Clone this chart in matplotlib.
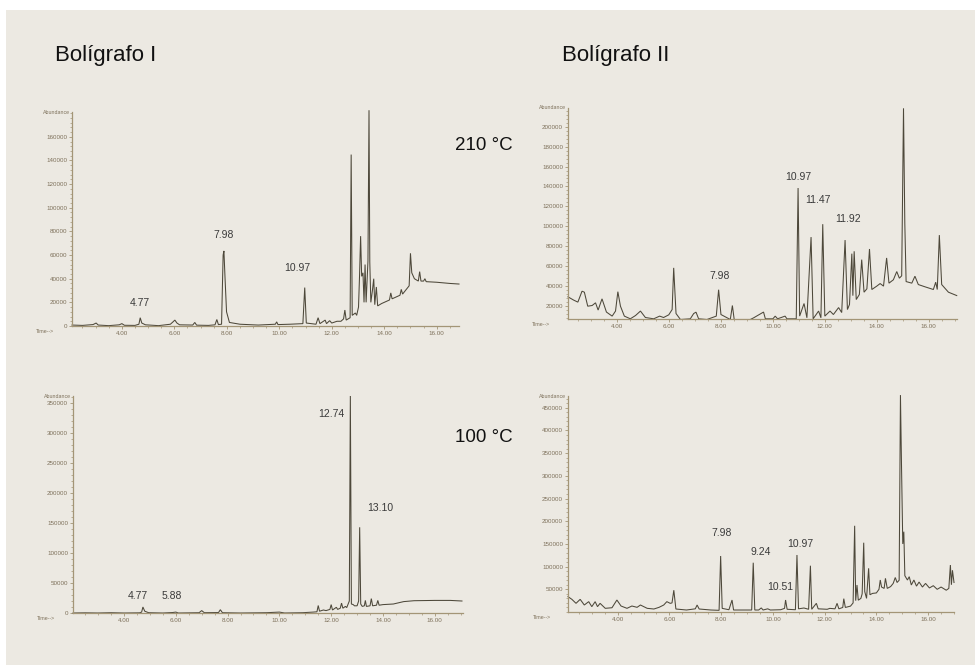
import numpy as np
import matplotlib.pyplot as plt
from matplotlib.patches import Rectangle
from matplotlib.ticker import FixedLocator, AutoMinorLocator

# chromatogram traces: (retention time [min], abundance)
trace_I_210 = [(2.10, 800), (2.5, 500), (2.9, 1200), (3.02, 2500), (3.1, 800), (3.5, 300),
               (3.9, 1000), (4.0, 2000), (4.1, 600), (4.5, 500), (4.65, 1500), (4.70, 7000),
               (4.76, 2500), (4.9, 1000), (5.4, 300), (5.85, 1500), (5.95, 3500), (6.02, 5000),
               (6.1, 2500), (6.2, 1000), (6.7, 800), (6.78, 3000), (6.85, 700), (7.3, 500),
               (7.55, 1000), (7.62, 5500), (7.68, 1200), (7.80, 1500), (7.86, 60000), (7.89, 63500),
               (7.93, 42000), (7.99, 12000), (8.1, 3000), (8.5, 1500), (9.2, 800), (9.85, 1500),
               (9.9, 3500), (9.95, 1200), (10.4, 1500), (10.9, 2000), (10.97, 32500), (11.03, 2500),
               (11.4, 1500), (11.48, 7000), (11.55, 2000), (11.75, 5000), (11.8, 2000), (11.92, 4500),
               (12.0, 2500), (12.2, 4000), (12.35, 4000), (12.45, 6000), (12.5, 13500), (12.55, 5000),
               (12.7, 7000), (12.74, 145000), (12.78, 9000), (12.9, 11000), (12.95, 9000),
               (13.02, 16000), (13.06, 43000), (13.1, 76000), (13.14, 42000), (13.19, 45000),
               (13.23, 20000), (13.27, 52000), (13.31, 20000), (13.38, 55000), (13.42, 182500),
               (13.45, 54000), (13.49, 20000), (13.55, 30000), (13.6, 40000), (13.64, 18000),
               (13.7, 33000), (13.75, 17000), (13.9, 19000), (14.2, 22000), (14.25, 28000),
               (14.3, 23000), (14.6, 26000), (14.65, 31000), (14.7, 27000), (14.95, 34000),
               (15.0, 61500), (15.05, 45000), (15.15, 40000), (15.3, 38000), (15.35, 46000),
               (15.4, 38000), (15.5, 38000), (15.55, 40000), (15.6, 37500), (16.0, 37000),
               (16.5, 36000), (16.85, 35500)]

trace_II_210 = [(2.11, 28800), (2.33, 25500), (2.49, 23500), (2.65, 34500), (2.74, 33500),
                (2.87, 19400), (3.04, 20100), (3.17, 22800), (3.27, 15500), (3.42, 26800),
                (3.59, 13500), (3.81, 9400), (3.94, 14500), (4.03, 34000), (4.13, 19400),
                (4.28, 9400), (4.51, 6700), (4.71, 10000), (4.9, 14500), (5.09, 8000),
                (5.41, 6700), (5.64, 9400), (5.79, 8000), (5.99, 10700), (6.12, 16000),
                (6.18, 58000), (6.27, 12000), (6.44, 6000), (6.82, 6700), (6.95, 12000),
                (7.04, 13400), (7.14, 6700), (7.46, 6000), (7.82, 9400), (7.91, 36000),
                (8.0, 11000), (8.36, 6000), (8.44, 20100), (8.51, 6000), (9.13, 6000),
                (9.26, 7700), (9.64, 13500), (9.71, 6700), (10.0, 6700), (10.09, 9400),
                (10.18, 6700), (10.47, 9400), (10.54, 6700), (10.90, 6700), (10.97, 138400),
                (11.03, 9400), (11.2, 22100), (11.31, 7700), (11.47, 89000), (11.55, 6700),
                (11.76, 14500), (11.85, 7700), (11.92, 102000), (12.0, 9400), (12.2, 14500),
                (12.33, 11000), (12.53, 18000), (12.65, 13000), (12.78, 86000), (12.87, 16000),
                (12.95, 21100), (13.04, 72300), (13.08, 30000), (13.13, 74700), (13.21, 26100),
                (13.33, 31200), (13.42, 66300), (13.51, 33500), (13.62, 36900), (13.72, 77000),
                (13.81, 36200), (14.0, 39600), (14.13, 42200), (14.26, 39600), (14.38, 68000),
                (14.47, 42600), (14.64, 46000), (14.77, 54300), (14.87, 47600), (14.96, 50000),
                (15.03, 218700), (15.08, 103000), (15.13, 44200), (15.35, 42600), (15.47, 49600),
                (15.6, 41200), (15.86, 38900), (16.18, 36200), (16.27, 43600), (16.33, 36200),
                (16.41, 91000), (16.5, 41200), (16.76, 33500), (17.08, 30100)]

trace_I_100 = [(2.03, 0), (2.5, 300), (3.0, 0), (3.5, 500), (4.0, 0), (4.6, 300), (4.68, 1500),
               (4.73, 10000), (4.8, 3000), (4.95, 500), (5.5, 0), (5.88, 800), (6.0, 1500),
               (6.1, 0), (6.9, 500), (7.0, 4000), (7.1, 500), (7.65, 800), (7.72, 5500),
               (7.8, 500), (8.5, 0), (9.5, 500), (10.0, 1500), (10.2, 0), (10.9, 500),
               (11.3, 1500), (11.45, 2000), (11.5, 12500), (11.55, 3000), (11.7, 5000),
               (11.8, 4000), (11.95, 6000), (12.0, 14000), (12.05, 5000), (12.2, 9500),
               (12.25, 6000), (12.35, 8000), (12.4, 16500), (12.45, 8000), (12.55, 11000),
               (12.6, 9000), (12.7, 20000), (12.74, 362000), (12.78, 15000), (12.85, 14000),
               (12.9, 12000), (13.0, 12000), (13.06, 20000), (13.1, 143000), (13.14, 15000),
               (13.2, 11000), (13.28, 12000), (13.32, 21000), (13.36, 11000), (13.5, 12000),
               (13.55, 24000), (13.6, 12000), (13.75, 13000), (13.8, 21000), (13.85, 13000),
               (14.0, 14000), (14.4, 15000), (14.8, 19000), (15.2, 20500), (16.0, 21000),
               (16.6, 21000), (17.05, 20000)]

trace_II_100 = [(2.08, 33800), (2.23, 27900), (2.39, 19100), (2.55, 27900), (2.71, 15400),
                (2.88, 22800), (3.0, 11800), (3.13, 22800), (3.22, 11800), (3.32, 19100),
                (3.52, 8100), (3.78, 9400), (3.97, 26400), (4.13, 13200), (4.36, 8100),
                (4.55, 13200), (4.75, 10300), (4.88, 15400), (5.14, 8100), (5.4, 6600),
                (5.6, 10300), (5.78, 15400), (5.9, 22800), (6.03, 19100), (6.1, 20000),
                (6.17, 48000), (6.25, 6600), (6.66, 4400), (7.0, 7000), (7.07, 15400),
                (7.15, 6600), (7.6, 4400), (7.92, 3700), (7.98, 123400), (8.04, 8000),
                (8.3, 5000), (8.42, 26400), (8.48, 4400), (9.0, 4400), (9.18, 4400),
                (9.24, 108600), (9.3, 4400), (9.45, 4400), (9.55, 9000), (9.62, 4400),
                (9.8, 7000), (9.9, 4400), (10.3, 5000), (10.45, 8000), (10.49, 26400),
                (10.55, 6000), (10.87, 5000), (10.93, 125600), (10.99, 7000), (11.2, 8800),
                (11.38, 6000), (11.45, 102000), (11.5, 6000), (11.68, 19100), (11.75, 7000),
                (12.1, 6000), (12.2, 8000), (12.4, 7000), (12.48, 19100), (12.55, 7000),
                (12.7, 10000), (12.74, 29400), (12.8, 10000), (13.0, 13000), (13.1, 20000),
                (13.16, 190000), (13.2, 25000), (13.25, 59500), (13.3, 26000), (13.4, 30000),
                (13.45, 40000), (13.51, 152700), (13.55, 45000), (13.62, 30000), (13.7, 96300),
                (13.75, 38000), (13.85, 41000), (14.0, 42000), (14.1, 50000), (14.15, 70500),
                (14.2, 55000), (14.3, 52000), (14.35, 74200), (14.42, 52000), (14.55, 56000),
                (14.65, 63000), (14.73, 76000), (14.8, 65000), (14.88, 70000), (14.93, 478000),
                (14.97, 326000), (15.02, 150000), (15.06, 177000), (15.1, 80000), (15.2, 70500),
                (15.27, 77800), (15.35, 59500), (15.45, 70500), (15.55, 57000), (15.65, 66000),
                (15.78, 55000), (15.9, 63000), (16.05, 53000), (16.2, 58000), (16.35, 50000),
                (16.5, 55000), (16.7, 48000), (16.8, 52000), (16.86, 103500), (16.9, 60000),
                (16.94, 92000), (17.0, 65000)]

# peak labels: (text, time, abundance)
peaks_I_210 = [("4.77", 4.70, 19700), ("7.98", 7.87, 77100), ("10.97", 10.70, 49400)]
peaks_II_210 = [("7.98", 7.95, 49600), ("10.97", 10.99, 149400), ("11.47", 11.73, 126600),
                ("11.92", 12.91, 107200)]
peaks_I_100 = [("12.74", 12.00, 332400), ("13.10", 13.91, 174900), ("4.77", 4.54, 27800),
               ("5.88", 5.83, 27800)]
peaks_II_100 = [("7.98", 8.03, 174700), ("9.24", 9.52, 132900), ("10.97", 11.06, 149700),
                ("10.51", 10.29, 54300)]

x_ticks = [4, 6, 8, 10, 12, 14, 16]
y_ticks_I_210 = [0, 20000, 40000, 60000, 80000, 100000, 120000, 140000, 160000]
y_ticks_II_210 = [20000, 40000, 60000, 80000, 100000, 120000, 140000, 160000, 180000, 200000]
y_ticks_I_100 = [0, 50000, 100000, 150000, 200000, 250000, 300000, 350000]
y_ticks_II_100 = [50000, 100000, 150000, 200000, 250000, 300000, 350000, 400000, 450000]

pens = ["Bolígrafo I", "Bolígrafo II"]
temps = ["210 °C", "100 °C"]

W, H = 975, 665
bg = '#ece9e2'
axis_col = '#a39576'
line_col = '#4d483a'
tick_col = '#7d705a'

plt.rcParams['font.family'] = ['Liberation Sans', 'DejaVu Sans']

fig = plt.figure(figsize=(W / 100, H / 100), dpi=100)
fig.patch.set_facecolor('white')
fig.patches.append(Rectangle((6 / W, 0), 1 - 6 / W, 1 - 10 / H, transform=fig.transFigure,
                             facecolor=bg, edgecolor='none', zorder=-5))


def panel(box, trace, peaks, yticks, xlim, ylim):
    # box in pixels: left, top, right, bottom (y measured from the top)
    l, t, r, b = box
    ax = fig.add_axes([l / W, 1 - b / H, (r - l) / W, (b - t) / H])
    ax.set_zorder(2)
    ax.set_facecolor('none')
    tt, aa = np.array(trace).T
    ax.plot(tt, aa, color=line_col, lw=0.75, clip_on=False, solid_joinstyle='miter')
    ax.set_xlim(*xlim)
    ax.set_ylim(*ylim)
    for s in ['top', 'right']:
        ax.spines[s].set_visible(False)
    for s in ['left', 'bottom']:
        ax.spines[s].set_color(axis_col)
        ax.spines[s].set_linewidth(0.9)
    ax.xaxis.set_major_locator(FixedLocator(x_ticks))
    ax.set_xticklabels(['%.2f' % v for v in x_ticks])
    ax.xaxis.set_minor_locator(AutoMinorLocator(4))
    ax.yaxis.set_major_locator(FixedLocator(yticks))
    ax.set_yticklabels(['%d' % v for v in yticks])
    ax.yaxis.set_minor_locator(AutoMinorLocator(5))
    ax.tick_params(which='major', length=2.5, width=0.6, color=axis_col, labelsize=4.5,
                   labelcolor=tick_col, pad=1)
    ax.tick_params(which='minor', length=1.3, width=0.5, color=axis_col)
    ax.text(-0.004, 1.0, 'Abundance', transform=ax.transAxes, ha='right', va='center',
            fontsize=3.8, color=tick_col)
    ax.text(-0.045, -0.015, 'Time-->', transform=ax.transAxes, ha='right', va='top',
            fontsize=3.8, color=tick_col)
    for lab, x, y in peaks:
        ax.text(x, y, lab, ha='center', va='center', fontsize=7.5, color='#3a3a3a')
    return ax


panel((72, 112, 459, 326), trace_I_210, peaks_I_210, y_ticks_I_210, (2.1, 16.85), (0, 181000))
panel((568, 108, 957, 319), trace_II_210, peaks_II_210, y_ticks_II_210, (2.11, 17.09), (6500, 219000))
panel((73, 396, 463, 613), trace_I_100, peaks_I_100, y_ticks_I_100, (2.03, 17.09), (0, 362000))
panel((568, 396, 954, 612), trace_II_100, peaks_II_100, y_ticks_II_100, (2.08, 17.0), (0, 476000))

fig.text(55 / W, 1 - 56 / H, pens[0], fontsize=16, va='center', ha='left', color='#111111')
fig.text(562 / W, 1 - 56 / H, pens[1], fontsize=16, va='center', ha='left', color='#111111')
fig.text(455 / W, 1 - 145 / H, temps[0], fontsize=13.5, va='center', ha='left', color='#111111')
fig.text(455 / W, 1 - 438 / H, temps[1], fontsize=13.5, va='center', ha='left', color='#111111')

fig.savefig('out.png', dpi=100, facecolor=fig.get_facecolor())
